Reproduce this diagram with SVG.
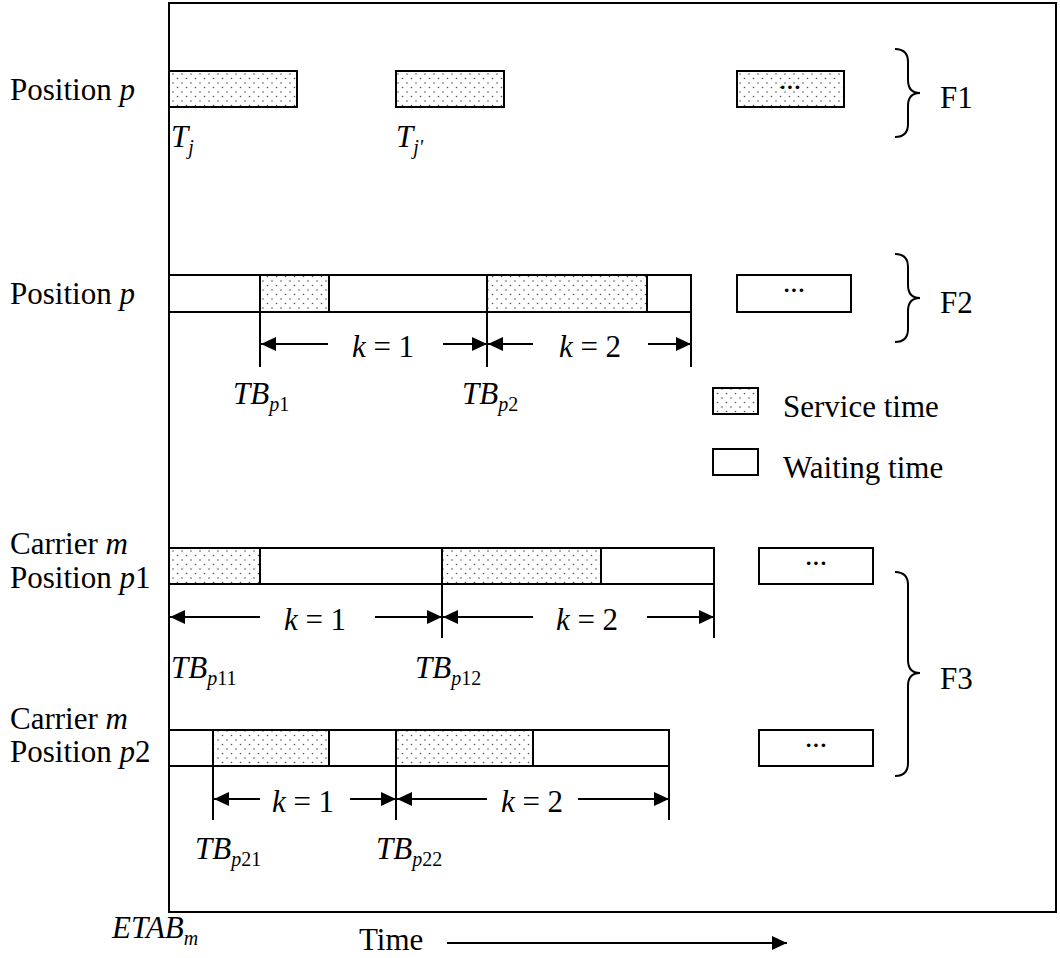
<svg xmlns="http://www.w3.org/2000/svg" width="1060" height="958" viewBox="0 0 1060 958">
  <style>
    text { font-family: "Liberation Serif", "Times New Roman", Times, "DejaVu Serif", serif; fill: #000; }
    .t { font-size: 31px; }
    .it { font-style: italic; }
    .up { font-style: normal; }
    .sub { font-size: 20px; }
    .k { font-size: 31px; text-anchor: middle; }
    .dots { font-size: 22px; text-anchor: middle; font-weight: bold; }
    .frame { fill: none; stroke: #000; stroke-width: 2; }
    .wait { fill: #fff; stroke: #000; stroke-width: 2; }
    .serv { fill: url(#stipple); stroke: #000; stroke-width: 2; }
    .tick { stroke: #000; stroke-width: 2; fill: none; }
    .dim { stroke: #000; stroke-width: 2; fill: none; marker-end: url(#head); }
    .brace { fill: none; stroke: #000; stroke-width: 2; }
  </style>
  <defs>
    <pattern id="stipple" width="9" height="9" patternUnits="userSpaceOnUse">
      <rect width="9" height="9" fill="#fff"/>
      <circle cx="2" cy="2" r="0.8" fill="#555"/>
      <circle cx="6.5" cy="6.5" r="0.8" fill="#555"/>
    </pattern>
    <marker id="head" markerUnits="userSpaceOnUse" markerWidth="16" markerHeight="14" refX="15" refY="7" orient="auto">
      <path d="M0,0 L15,7 L0,14 Z" fill="#000"/>
    </marker>
  </defs>

  <!-- outer frame -->
  <rect class="frame" x="169" y="3" width="887" height="909"/>

  <!-- F1: single position -->
  <g id="f1-row">
    <text class="t" x="10" y="100">Position <tspan class="it">p</tspan></text>
    <rect class="serv" x="169" y="71" width="128" height="36"/>
    <rect class="serv" x="396" y="71" width="108" height="36"/>
    <rect class="serv" x="737" y="71" width="107" height="36"/>
    <text class="dots" x="790" y="94">···</text>
    <text class="t it" x="171" y="147">T<tspan class="sub" dy="7">j</tspan></text>
    <text class="t it" x="396" y="147">T<tspan class="sub" dy="7">j'</tspan></text>
  </g>
  <g id="f1-brace">
    <path class="brace" d="M895,49 Q908,49 908,62 L908,80 Q908,93 920,93 Q908,93 908,106 L908,124 Q908,137 895,137"/>
    <text class="t" x="940" y="108">F1</text>
  </g>

  <!-- F2: position with time buckets -->
  <g id="f2-row">
    <text class="t" x="10" y="304">Position <tspan class="it">p</tspan></text>
    <rect class="wait" x="169" y="275" width="522" height="37"/>
    <rect class="serv" x="260" y="275" width="69" height="37"/>
    <rect class="serv" x="487" y="275" width="160" height="37"/>
    <rect class="wait" x="737" y="275" width="114" height="37"/>
    <text class="dots" x="794" y="297" font-weight="normal">···</text>
    <text class="t it" x="233" y="404">TB<tspan class="sub" dy="7">p</tspan><tspan class="sub up">1</tspan></text>
    <text class="t it" x="462" y="404">TB<tspan class="sub" dy="7">p</tspan><tspan class="sub up">2</tspan></text>
  </g>
  <g id="f2-brace">
    <path class="brace" d="M895,254 Q908,254 908,267 L908,285 Q908,298 920,298 Q908,298 908,311 L908,329 Q908,342 895,342"/>
    <text class="t" x="940" y="313">F2</text>
  </g>

  <!-- legend -->
  <g id="legend">
    <rect class="serv" x="713" y="388" width="45" height="26"/>
    <text class="t" x="783" y="417">Service time</text>
    <rect class="wait" x="713" y="449" width="45" height="26"/>
    <text class="t" x="783" y="478">Waiting time</text>
  </g>

  <!-- F3: carrier positions p1 and p2 -->
  <g id="f3-row1">
    <text class="t" x="10" y="554">Carrier <tspan class="it">m</tspan></text>
    <text class="t" x="10" y="588">Position <tspan class="it">p</tspan>1</text>
    <rect class="wait" x="169" y="548" width="545" height="36"/>
    <rect class="serv" x="169" y="548" width="91" height="36"/>
    <rect class="serv" x="442" y="548" width="159" height="36"/>
    <rect class="wait" x="759" y="548" width="114" height="36"/>
    <text class="dots" x="816" y="570">···</text>
    <text class="t it" x="171" y="678">TB<tspan class="sub" dy="7">p</tspan><tspan class="sub up">11</tspan></text>
    <text class="t it" x="415" y="678">TB<tspan class="sub" dy="7">p</tspan><tspan class="sub up">12</tspan></text>
  </g>
  <g id="f3-row2">
    <text class="t" x="10" y="729">Carrier <tspan class="it">m</tspan></text>
    <text class="t" x="10" y="762">Position <tspan class="it">p</tspan>2</text>
    <rect class="wait" x="169" y="730" width="500" height="36"/>
    <rect class="serv" x="213" y="730" width="116" height="36"/>
    <rect class="serv" x="396" y="730" width="137" height="36"/>
    <rect class="wait" x="759" y="730" width="114" height="36"/>
    <text class="dots" x="816" y="752">···</text>
    <text class="t it" x="195" y="859">TB<tspan class="sub" dy="7">p</tspan><tspan class="sub up">21</tspan></text>
    <text class="t it" x="376" y="859">TB<tspan class="sub" dy="7">p</tspan><tspan class="sub up">22</tspan></text>
  </g>
  <g id="f3-brace">
    <path class="brace" d="M895,572 Q908,572 908,585 L908,660 Q908,673 920,673 Q908,673 908,686 L908,763 Q908,776 895,776"/>
    <text class="t" x="940" y="689">F3</text>
  </g>

  <!-- bucket boundaries and span arrows -->
  <g id="connectors">
    <path class="tick" d="M260,312 V367 M487,312 V367 M691,312 V367"/>
    <path class="dim" d="M328,344 H261"/>
    <path class="dim" d="M443,344 H487"/>
    <path class="dim" d="M533,344 H488"/>
    <path class="dim" d="M648,344 H691"/>

    <path class="tick" d="M442,584 V638 M714,584 V638"/>
    <path class="dim" d="M260,617 H170"/>
    <path class="dim" d="M375,617 H442"/>
    <path class="dim" d="M533,617 H443"/>
    <path class="dim" d="M647,617 H714"/>

    <path class="tick" d="M213,766 V820 M396,766 V820 M669,766 V820"/>
    <path class="dim" d="M260,799 H214"/>
    <path class="dim" d="M350,799 H396"/>
    <path class="dim" d="M487,799 H397"/>
    <path class="dim" d="M578,799 H669"/>

    <path class="dim" d="M447,943 H787"/>
  </g>

  <!-- span labels -->
  <g id="k-labels">
    <text class="k" x="383" y="357"><tspan class="it">k</tspan> = 1</text>
    <text class="k" x="590" y="357"><tspan class="it">k</tspan> = 2</text>
    <text class="k" x="315" y="630"><tspan class="it">k</tspan> = 1</text>
    <text class="k" x="587" y="630"><tspan class="it">k</tspan> = 2</text>
    <text class="k" x="303" y="812"><tspan class="it">k</tspan> = 1</text>
    <text class="k" x="532" y="812"><tspan class="it">k</tspan> = 2</text>
  </g>

  <!-- time axis -->
  <g id="axis">
    <text class="t it" x="112" y="938">ETAB<tspan class="sub" dy="7">m</tspan></text>
    <text class="t" x="359" y="950">Time</text>
  </g>
</svg>
